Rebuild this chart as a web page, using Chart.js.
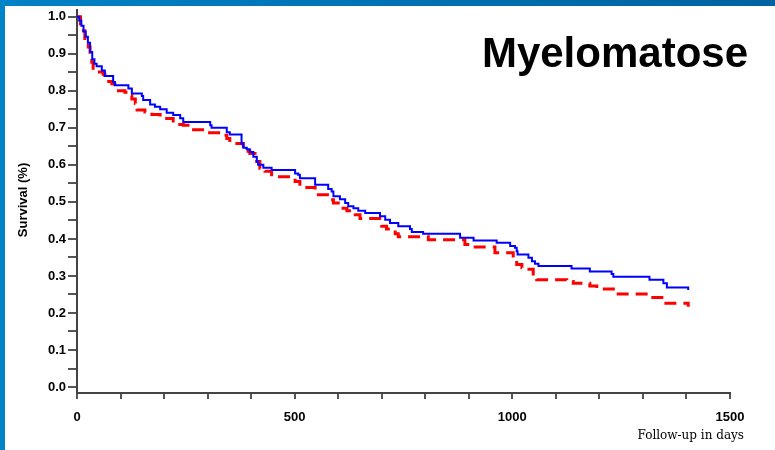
<!DOCTYPE html>
<html>
<head>
<meta charset="utf-8">
<title>Myelomatose</title>
<script src="https://cdn.jsdelivr.net/npm/chart.js@4.4.1/dist/chart.umd.min.js"></script>
<style>
  html, body { margin: 0; padding: 0; background: #fff; }
  #wrap { position: relative; width: 775px; height: 450px; overflow: hidden; background: #fff; }
  #topBar { position: absolute; left: 0; top: 0; width: 775px; height: 6px;
            background: linear-gradient(to right, #0082c6, #0062a0); }
  #leftBar { position: absolute; left: 0; top: 0; width: 5px; height: 450px; background: #0084c8; }
  canvas { position: absolute; left: 0; top: 0; }
</style>
</head>
<body>
<div id="wrap">
  <canvas id="km" width="775" height="450"></canvas>
  <div id="topBar"></div>
  <div id="leftBar"></div>
</div>
<script>
// survival curves (Kaplan-Meier steps): day of event -> survival after it
const blueDays = [0, 5, 10, 15, 20, 25, 30, 35, 40, 45, 57, 64, 83, 87, 118, 126, 149, 152, 168, 179,
  191, 206, 221, 237, 244, 306, 309, 344, 351, 378, 382, 390, 397, 405, 413, 416, 428, 447, 501, 508,
  512, 547, 577, 585, 589, 604, 616, 623, 635, 646, 662, 696, 708, 719, 738, 765, 769, 795, 880, 911,
  964, 995, 1006, 1010, 1012, 1037, 1045, 1052, 1060, 1136, 1178, 1228, 1232, 1315, 1347, 1355, 1400, 1404];
const blueSurv = [1.0, 0.99, 0.976, 0.96, 0.946, 0.93, 0.905, 0.885, 0.873, 0.866, 0.855, 0.84, 0.824, 0.815, 0.806, 0.793, 0.786, 0.775, 0.763, 0.757,
  0.75, 0.741, 0.735, 0.726, 0.716, 0.707, 0.70, 0.688, 0.682, 0.658, 0.646, 0.642, 0.635, 0.622, 0.609, 0.60, 0.592, 0.586, 0.577, 0.573,
  0.564, 0.546, 0.535, 0.528, 0.515, 0.507, 0.497, 0.488, 0.483, 0.476, 0.47, 0.461, 0.452, 0.443, 0.434, 0.427, 0.419, 0.414, 0.403, 0.396,
  0.39, 0.381, 0.376, 0.367, 0.358, 0.349, 0.34, 0.333, 0.327, 0.32, 0.312, 0.305, 0.298, 0.29, 0.28, 0.269, 0.269, 0.262];

const redDays = [0, 8, 11, 18, 26, 30, 34, 37, 45, 60, 64, 80, 87, 110, 118, 126, 134, 138, 156, 172,
  191, 221, 244, 260, 298, 329, 344, 351, 382, 397, 409, 420, 432, 447, 501, 512, 547, 581, 589, 604,
  620, 639, 650, 700, 711, 731, 738, 807, 891, 907, 960, 1002, 1010, 1022, 1033, 1048, 1056, 1125, 1140, 1178,
  1194, 1232, 1316, 1347, 1400, 1404];
const redSurv = [1.0, 0.975, 0.962, 0.936, 0.918, 0.891, 0.877, 0.857, 0.851, 0.845, 0.825, 0.819, 0.80, 0.796, 0.787, 0.778, 0.766, 0.748, 0.743, 0.736,
  0.725, 0.709, 0.707, 0.695, 0.687, 0.68, 0.671, 0.658, 0.637, 0.631, 0.609, 0.591, 0.583, 0.568, 0.555, 0.539, 0.519, 0.506, 0.497, 0.483,
  0.476, 0.465, 0.455, 0.434, 0.427, 0.414, 0.406, 0.398, 0.385, 0.378, 0.363, 0.349, 0.331, 0.322, 0.318, 0.30, 0.29, 0.285, 0.28, 0.273,
  0.265, 0.251, 0.242, 0.226, 0.226, 0.217];

const xTickValues = [0, 100, 200, 300, 400, 500, 600, 700, 800, 900, 1000, 1100, 1200, 1300, 1400, 1500];
const xTickLabels = ['0', '', '', '', '', '500', '', '', '', '', '1000', '', '', '', '', '1500'];
const yTickValues = [0, 0.05, 0.1, 0.15, 0.2, 0.25, 0.3, 0.35, 0.4, 0.45, 0.5, 0.55, 0.6, 0.65, 0.7, 0.75, 0.8, 0.85, 0.9, 0.95, 1.0];
const yTickLabels = ['0.0', '', '0.1', '', '0.2', '', '0.3', '', '0.4', '', '0.5', '', '0.6', '', '0.7', '', '0.8', '', '0.9', '', '1.0'];

const titleText = 'Myelomatose';
const yTitle = 'Survival (%)';
const xTitle = 'Follow-up in days';

const toPoints = (days, surv) => days.map((d, i) => ({ x: d, y: surv[i] }));

const tickFont = { family: '"Liberation Sans", Arial, sans-serif', size: 13, weight: 'bold' };

// titles drawn on top of the plot
const textPlugin = {
  id: 'kmText',
  afterDraw(chart) {
    const ctx = chart.ctx;
    ctx.save();
    ctx.fillStyle = '#000';
    ctx.font = 'bold 42px "Liberation Sans", Arial, sans-serif';
    ctx.textAlign = 'right';
    ctx.textBaseline = 'alphabetic';
    ctx.fillText(titleText, 748, 67);

    ctx.font = '12px "DejaVu Serif", serif';
    ctx.textAlign = 'right';
    ctx.textBaseline = 'middle';
    ctx.fillText(xTitle, 744, 436);

    ctx.translate(23, 200);
    ctx.rotate(-Math.PI / 2);
    ctx.font = 'bold 13px "Liberation Sans", Arial, sans-serif';
    ctx.textAlign = 'center';
    ctx.fillText(yTitle, 0, 0);
    ctx.restore();
  }
};

new Chart(document.getElementById('km'), {
  type: 'line',
  data: {
    datasets: [
      {
        data: toPoints(blueDays, blueSurv),
        borderColor: '#0000ff',
        borderWidth: 2,
        stepped: 'before',
        pointRadius: 0,
        fill: false
      },
      {
        data: toPoints(redDays, redSurv),
        borderColor: '#ff0000',
        borderWidth: 3,
        borderDash: [12, 7],
        stepped: 'before',
        pointRadius: 0,
        fill: false
      }
    ]
  },
  options: {
    responsive: false,
    animation: false,
    devicePixelRatio: 1,
    layout: { padding: { left: 0, right: 45, top: 7, bottom: 0 } },
    plugins: { legend: { display: false }, tooltip: { enabled: false } },
    scales: {
      x: {
        type: 'linear',
        min: 0,
        max: 1500,
        afterFit: s => { s.height = 57; },
        afterBuildTicks: s => { s.ticks = xTickValues.map(v => ({ value: v })); },
        border: { display: true, color: '#444', width: 2 },
        grid: { drawOnChartArea: false, drawTicks: true, tickLength: 6, color: '#555', lineWidth: 2 },
        ticks: {
          autoSkip: false,
          maxRotation: 0,
          padding: 11,
          color: '#000',
          font: tickFont,
          callback: (v, i) => xTickLabels[i]
        }
      },
      y: {
        type: 'linear',
        min: -6 / 373,
        max: 1 + 7 / 373,
        afterFit: s => { s.width = 77; },
        afterBuildTicks: s => { s.ticks = yTickValues.map(v => ({ value: v })); },
        border: { display: true, color: '#444', width: 2 },
        grid: { drawOnChartArea: false, drawTicks: true, tickLength: 9, color: '#555', lineWidth: 2 },
        ticks: {
          autoSkip: false,
          padding: 2,
          color: '#000',
          font: tickFont,
          callback: (v, i) => yTickLabels[i]
        }
      }
    }
  },
  plugins: [textPlugin]
});
</script>
</body>
</html>
